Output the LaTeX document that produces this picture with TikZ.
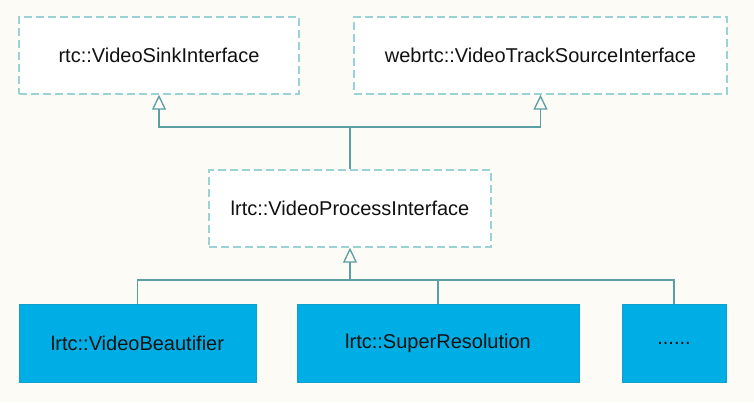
\documentclass[tikz,border=0pt]{standalone}
\usepackage{fontspec}
\setmainfont{Liberation Sans}
\usetikzlibrary{arrows.meta}
\definecolor{bgcol}{HTML}{FCFBF6}
\definecolor{dashcol}{HTML}{9BD2D5}
\definecolor{linkcol}{HTML}{5B9EA4}
\definecolor{implcol}{HTML}{00AEE6}
\definecolor{implline}{HTML}{139FCC}
\definecolor{txtcol}{HTML}{111111}
\tikzset{
	iface/.style={draw=dashcol, fill=white, line width=1.4pt, dash pattern=on 8pt off 4pt,
		minimum height=77pt, inner sep=0pt, text=txtcol, font=\fontsize{20}{24}\selectfont},
	impl/.style={draw=implline, fill=implcol, line width=0.8pt,
		minimum height=78pt, inner sep=0pt, text=txtcol, font=\fontsize{20}{24}\selectfont},
	link/.style={draw=linkcol, line width=1.4pt},
	inherit/.style={link, -{Triangle[open,width=14pt,length=15pt,line width=1.3pt]}}
}
\begin{document}
\begin{tikzpicture}[x=1pt,y=-1pt]
	\fill[bgcol] (0,0) rectangle (754,402);
	\useasboundingbox (0,0) rectangle (754,402);
	\node[iface, minimum width=280pt] (sink) at (159,55.5) {rtc::VideoSinkInterface};
	\node[iface, minimum width=373pt] (track) at (540.5,55.5) {webrtc::VideoTrackSourceInterface};
	\node[iface, minimum width=282pt] (proc) at (350,208.5) {lrtc::VideoProcessInterface};
	\node[impl, minimum width=237pt] (beaut) at (137.5,343) {lrtc::VideoBeautifier};
	\node[impl, minimum width=282pt] (superres) at (438,343) {lrtc::SuperResolution};
	\node[impl, minimum width=104pt] (more) at (674,343) {......};
	\coordinate (upjoin) at (350,127);
	\coordinate (downjoin) at (350,280);
	\draw[link] (proc.north) -- (upjoin);
	\draw[inherit] (upjoin) -| (sink.south);
	\draw[inherit] (upjoin) -| (track.south);
	\draw[link] (beaut.north) |- (downjoin);
	\draw[link] (superres.north) |- (downjoin);
	\draw[link] (more.north) |- (downjoin);
	\draw[inherit] (downjoin) -- (proc.south);
\end{tikzpicture}
\end{document}
